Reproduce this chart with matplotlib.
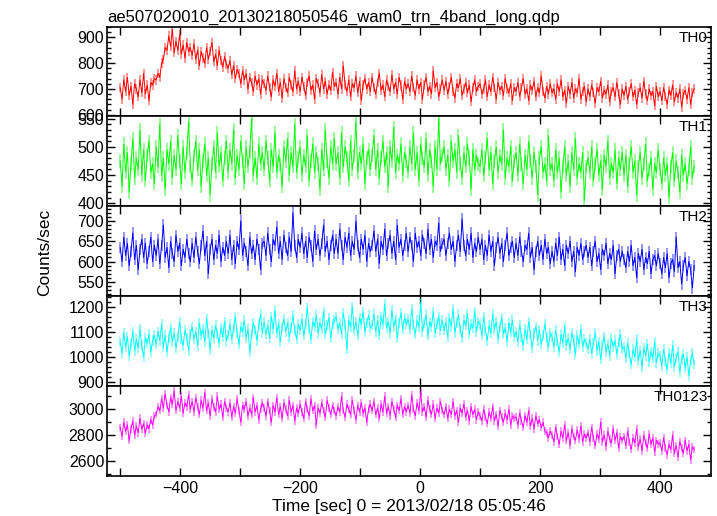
import numpy as np
import matplotlib
matplotlib.use("Agg")
from matplotlib import pyplot as plt
from matplotlib.ticker import MultipleLocator

plt.rcParams['font.family'] = ['Liberation Sans', 'DejaVu Sans']
plt.rcParams['font.size'] = 11

# time bins [sec], 3 s per bin, 0 = 2013/02/18 05:05:46
t = np.arange(-500, 460, 3)

# count rates (16 rows of 20 bins = 60 s per row)
th0 = [
    705, 660, 735, 690, 745, 675, 710, 640, 720, 700, 670, 735, 685, 760, 680, 715, 655, 725, 715, 740,
    735, 760, 745, 800, 815, 860, 850, 905, 865, 930, 840, 885, 850, 910, 835, 870, 820, 880, 845, 860,
    830, 875, 815, 850, 790, 845, 820, 800, 860, 815, 845, 880, 805, 835, 790, 850, 810, 785, 825, 795,
    780, 810, 755, 790, 740, 775, 760, 720, 770, 735, 760, 700, 745, 725, 690, 750, 715, 740, 680, 735,
    720, 695, 750, 705, 670, 735, 710, 760, 690, 725, 665, 740, 705, 685, 745, 715, 690, 770, 700, 730,
    690, 745, 710, 675, 725, 750, 695, 715, 660, 740, 720, 685, 755, 700, 730, 680, 715, 695, 765, 710,
    725, 680, 745, 700, 790, 715, 690, 735, 670, 720, 705, 750, 685, 730, 655, 715, 740, 700, 725, 690,
    745, 705, 680, 725, 760, 695, 715, 670, 735, 710, 690, 755, 700, 725, 680, 745, 715, 660, 730, 700,
    720, 690, 750, 705, 675, 735, 700, 725, 660, 715, 745, 690, 710, 680, 770, 705, 725, 670, 700, 735,
    695, 730, 680, 710, 745, 690, 665, 720, 705, 740, 675, 700, 725, 685, 715, 650, 705, 735, 690, 710,
    720, 680, 700, 735, 670, 715, 690, 745, 705, 660, 725, 695, 710, 675, 740, 700, 685, 720, 655, 705,
    690, 725, 670, 705, 740, 680, 700, 655, 715, 695, 730, 670, 705, 685, 750, 690, 665, 710, 680, 720,
    685, 700, 660, 720, 690, 735, 670, 695, 645, 710, 680, 725, 665, 700, 685, 740, 660, 690, 710, 650,
    700, 670, 715, 685, 645, 705, 690, 730, 665, 695, 680, 715, 650, 690, 705, 670, 725, 680, 640, 700,
    675, 710, 660, 690, 720, 670, 695, 640, 685, 705, 665, 730, 680, 655, 700, 675, 690, 635, 710, 670,
    690, 655, 705, 670, 640, 695, 675, 715, 650, 685, 665, 700, 630, 680, 695, 660, 705, 640, 685, 700,
]
th1 = [
    475, 430, 505, 455, 490, 420, 470, 515, 445, 480, 460, 530, 450, 495, 440, 485, 510, 455, 470, 435,
    500, 465, 540, 450, 480, 425, 495, 470, 510, 445, 485, 460, 520, 475, 435, 500, 455, 490, 545, 465,
    440, 485, 510, 460, 495, 430, 475, 505, 450, 480, 415, 470, 500, 455, 525, 465, 490, 440, 480, 510,
    455, 495, 470, 530, 445, 485, 460, 510, 475, 435, 500, 465, 490, 550, 450, 480, 445, 505, 470, 490,
    460, 510, 480, 440, 495, 465, 525, 455, 485, 470, 430, 500, 475, 515, 450, 490, 465, 540, 455, 480,
    500, 450, 485, 465, 520, 440, 475, 505, 455, 490, 470, 425, 495, 460, 530, 475, 445, 500, 470, 515,
    470, 490, 445, 525, 465, 500, 480, 440, 510, 460, 485, 545, 455, 490, 470, 505, 435, 480, 495, 460,
    485, 520, 460, 495, 445, 480, 510, 465, 490, 430, 500, 475, 535, 455, 485, 470, 505, 450, 490, 475,
    455, 500, 470, 525, 460, 490, 440, 505, 480, 465, 515, 450, 495, 475, 430, 500, 460, 550, 470, 485,
    500, 460, 485, 440, 510, 475, 495, 455, 520, 470, 445, 490, 465, 505, 480, 425, 495, 460, 485, 470,
    465, 495, 450, 480, 515, 460, 490, 435, 475, 500, 455, 485, 470, 530, 445, 480, 465, 500, 440, 475,
    490, 450, 505, 470, 435, 485, 460, 510, 475, 445, 490, 465, 415, 480, 500, 455, 470, 440, 520, 460,
    470, 440, 495, 455, 480, 420, 465, 500, 450, 475, 430, 490, 460, 515, 445, 470, 455, 490, 405, 465,
    480, 455, 500, 440, 470, 495, 450, 475, 425, 485, 465, 510, 445, 470, 455, 495, 435, 480, 460, 490,
    450, 485, 430, 470, 500, 455, 475, 415, 465, 490, 445, 470, 505, 440, 460, 480, 425, 470, 455, 495,
    460, 435, 480, 450, 470, 410, 465, 490, 440, 475, 455, 420, 485, 450, 470, 435, 460, 500, 445, 465,
]
th2 = [
    635, 600, 660, 615, 645, 590, 625, 670, 605, 640, 580, 630, 655, 610, 645, 595, 625, 660, 600, 640,
    615, 655, 595, 640, 690, 610, 635, 585, 650, 620, 600, 665, 625, 645, 590, 630, 610, 655, 620, 600,
    645, 610, 660, 625, 595, 640, 675, 615, 650, 570, 630, 655, 605, 640, 620, 665, 600, 635, 615, 650,
    620, 665, 605, 640, 595, 650, 630, 700, 615, 645, 625, 590, 660, 620, 640, 605, 655, 630, 580, 645,
    650, 615, 670, 630, 600, 655, 640, 685, 620, 650, 605, 665, 635, 615, 660, 625, 720, 640, 610, 655,
    635, 670, 620, 650, 610, 660, 640, 600, 675, 630, 655, 615, 645, 690, 625, 650, 605, 640, 665, 620,
    655, 620, 680, 640, 605, 660, 635, 670, 615, 650, 630, 700, 640, 610, 655, 630, 665, 600, 645, 625,
    640, 675, 625, 655, 595, 650, 630, 680, 615, 645, 665, 620, 650, 605, 690, 635, 655, 615, 640, 670,
    625, 660, 640, 600, 670, 635, 650, 615, 665, 645, 620, 680, 630, 655, 610, 650, 640, 695, 625, 645,
    655, 615, 645, 670, 630, 650, 600, 640, 665, 625, 705, 640, 615, 655, 630, 670, 610, 645, 625, 660,
    630, 655, 605, 640, 615, 665, 625, 650, 590, 635, 660, 620, 645, 600, 640, 670, 615, 635, 650, 610,
    645, 615, 660, 625, 600, 640, 630, 670, 610, 635, 580, 625, 650, 615, 640, 605, 655, 620, 635, 595,
    625, 600, 645, 615, 660, 605, 630, 590, 640, 620, 650, 600, 625, 575, 635, 615, 645, 605, 625, 640,
    610, 635, 590, 625, 650, 600, 620, 580, 630, 615, 645, 595, 620, 605, 640, 570, 615, 630, 600, 625,
    605, 585, 625, 600, 640, 590, 610, 560, 620, 600, 630, 580, 610, 595, 625, 570, 605, 615, 590, 620,
    595, 570, 610, 585, 620, 560, 595, 605, 575, 660, 585, 600, 545, 590, 610, 565, 600, 580, 535, 590,
]
th3 = [
    1060, 1015, 1095, 1040, 1080, 1005, 1050, 1100, 1025, 1070, 1035, 1110, 1045, 1000, 1075, 1055, 1090, 1020, 1065, 1085,
    1050, 1100, 1065, 1130, 1040, 1085, 1020, 1075, 1115, 1060, 1095, 1035, 1080, 1140, 1070, 1045, 1105, 1075, 1025, 1090,
    1120, 1070, 1100, 1045, 1135, 1085, 1110, 1060, 1150, 1095, 1030, 1105, 1075, 1125, 1090, 1055, 1115, 1080, 1140, 1065,
    1085, 1130, 1070, 1115, 1160, 1095, 1050, 1120, 1100, 1145, 1075, 1110, 1020, 1090, 1135, 1105, 1065, 1125, 1170, 1095,
    1140, 1090, 1125, 1075, 1160, 1110, 1185, 1095, 1130, 1060, 1120, 1150, 1100, 1135, 1080, 1115, 1165, 1105, 1070, 1130,
    1105, 1150, 1085, 1130, 1195, 1115, 1070, 1140, 1120, 1165, 1095, 1135, 1110, 1180, 1090, 1125, 1155, 1075, 1130, 1145,
    1160, 1110, 1135, 1090, 1175, 1125, 1030, 1145, 1120, 1200, 1105, 1140, 1085, 1155, 1130, 1180, 1100, 1135, 1165, 1115,
    1125, 1170, 1100, 1145, 1085, 1160, 1130, 1210, 1115, 1140, 1095, 1185, 1120, 1150, 1075, 1135, 1175, 1110, 1155, 1130,
    1150, 1110, 1190, 1125, 1090, 1145, 1120, 1215, 1100, 1135, 1165, 1085, 1140, 1120, 1180, 1095, 1130, 1160, 1105, 1145,
    1105, 1140, 1080, 1155, 1120, 1190, 1095, 1135, 1165, 1110, 1075, 1145, 1125, 1170, 1090, 1130, 1115, 1180, 1100, 1140,
    1130, 1085, 1160, 1105, 1065, 1125, 1095, 1170, 1110, 1140, 1070, 1120, 1155, 1090, 1115, 1060, 1135, 1100, 1145, 1080,
    1100, 1060, 1125, 1080, 1045, 1110, 1070, 1140, 1090, 1035, 1095, 1120, 1065, 1105, 1050, 1085, 1130, 1075, 1040, 1095,
    1080, 1040, 1105, 1060, 1020, 1090, 1055, 1120, 1045, 1075, 1030, 1095, 1065, 1010, 1085, 1050, 1110, 1040, 1070, 1055,
    1030, 1070, 1015, 1055, 1095, 1025, 1060, 990, 1045, 1080, 1020, 1050, 1005, 1075, 1040, 1065, 1010, 1055, 1090, 1030,
    1040, 995, 1055, 1010, 970, 1030, 1000, 1070, 985, 1025, 960, 1035, 1005, 1050, 980, 1020, 995, 1060, 975, 1015,
    1005, 965, 1030, 985, 950, 1015, 975, 1045, 960, 995, 1020, 940, 990, 1010, 955, 1000, 925, 985, 1015, 970,
]
th0123 = [
    2860, 2790, 2900, 2830, 2880, 2760, 2850, 2910, 2800, 2870, 2820, 2930, 2845, 2890, 2815, 2880, 2850, 2920, 2880, 2950,
    2960, 3020, 2990, 3080, 3010, 3120, 3030, 2980, 3090, 3040, 3140, 2990, 3060, 3010, 3100, 2970, 3050, 3020, 3110, 3000,
    3060, 2980, 3090, 3020, 2960, 3070, 3010, 3130, 2990, 3050, 2950, 3080, 3020, 2980, 3100, 3000, 3040, 2940, 3060, 3010,
    2980, 3050, 2940, 3020, 2970, 3080, 2990, 2900, 3030, 3000, 3060, 2950, 3010, 2960, 3090, 2980, 3030, 2920, 3000, 3050,
    3010, 2950, 3060, 2990, 2900, 3030, 2980, 3090, 2960, 3020, 2930, 3050, 3000, 2950, 3070, 2980, 3030, 2910, 3010, 2970,
    3040, 2980, 2930, 3060, 3000, 2950, 3080, 2990, 3030, 2880, 3010, 2970, 3050, 2990, 2940, 3070, 3010, 2960, 3030, 2990,
    2950, 3020, 2980, 3100, 2990, 2940, 3040, 3000, 2960, 3070, 2990, 2920, 3030, 2980, 3050, 2970, 3010, 2900, 3000, 3040,
    2990, 3060, 2960, 3010, 2930, 3040, 2980, 3100, 2970, 3020, 2950, 3060, 3000, 2940, 3030, 2990, 3080, 2960, 3020, 2980,
    3030, 2970, 3110, 3000, 2950, 3050, 2990, 3130, 2980, 3020, 2940, 3070, 3000, 2960, 3040, 2930, 3010, 2970, 3060, 2990,
    2960, 3020, 2930, 3000, 2960, 3060, 2950, 2990, 2900, 3010, 2970, 3040, 2940, 2990, 2910, 3020, 2960, 3000, 2920, 2980,
    2950, 2910, 3000, 2940, 2890, 2980, 2930, 3020, 2910, 2960, 2870, 2990, 2940, 2900, 2970, 2920, 3000, 2880, 2950, 2930,
    2940, 2880, 2970, 2910, 2860, 2950, 2900, 2990, 2870, 2930, 2850, 2950, 2890, 2920, 2860, 2900, 2830, 2820, 2780, 2830,
    2800, 2750, 2860, 2790, 2730, 2830, 2780, 2880, 2760, 2820, 2720, 2850, 2790, 2760, 2840, 2770, 2870, 2750, 2810, 2780,
    2820, 2750, 2860, 2780, 2720, 2810, 2770, 2900, 2750, 2800, 2710, 2830, 2770, 2740, 2850, 2760, 2820, 2700, 2790, 2760,
    2790, 2720, 2830, 2750, 2690, 2780, 2740, 2850, 2710, 2770, 2680, 2800, 2740, 2700, 2810, 2730, 2780, 2670, 2760, 2730,
    2740, 2680, 2780, 2700, 2650, 2730, 2690, 2800, 2660, 2720, 2630, 2750, 2700, 2660, 2760, 2680, 2730, 2610, 2710, 2690,
]

bands = ["TH0", "TH1", "TH2", "TH3", "TH0123"]
rates = [th0, th1, th2, th3, th0123]
errors = [18, 12, 14, 20, 30]  # typical 1-sigma error per bin
colors = ["#ff0000", "#00ff00", "#0000ff", "#00ffff", "#ff00ff"]
ylims = [(595, 940), (395, 555), (515, 737), (884, 1242), (2485, 3180)]
ymajor = [100, 50, 50, 100, 200]
yminor = [20, 10, 10, 20, 100]

fig = plt.figure(figsize=(7.17, 5.16), dpi=100)

left, right = 107 / 717, 711 / 717
top_px = [27, 116, 206, 296, 386, 476]

axes = []
for i in range(5):
    y0 = 1 - top_px[i + 1] / 516
    h = (top_px[i + 1] - top_px[i]) / 516
    ax = fig.add_axes([left, y0, right - left, h])
    y = np.array(rates[i])
    # light error bars then the curve itself
    ax.vlines(t, y - errors[i], y + errors[i], color=colors[i], alpha=0.45, lw=1.3)
    ax.plot(t, y, color=colors[i], lw=0.7)
    ax.set_xlim(-522, 485)
    ax.set_ylim(*ylims[i])
    ax.xaxis.set_major_locator(MultipleLocator(200))
    ax.xaxis.set_minor_locator(MultipleLocator(100))
    ax.yaxis.set_major_locator(MultipleLocator(ymajor[i]))
    ax.yaxis.set_minor_locator(MultipleLocator(yminor[i]))
    ax.tick_params(which="both", direction="in", top=True, right=True, width=1.0, labelsize=11.5)
    ax.tick_params(which="major", length=6)
    ax.tick_params(which="minor", length=3)
    ax.tick_params(axis="x", which="minor", length=6)
    ax.tick_params(axis="y", pad=2)
    for s in ax.spines.values():
        s.set_linewidth(1.2)
    if i < 4:
        ax.tick_params(labelbottom=False)
    ax.text(0.995, 0.96, bands[i], transform=ax.transAxes, ha="right", va="top", fontsize=11)
    axes.append(ax)

axes[0].set_title("ae507020010_20130218050546_wam0_trn_4band_long.qdp", loc="left", fontsize=12, pad=4)
axes[-1].set_xlabel("Time [sec] 0 = 2013/02/18 05:05:46", fontsize=12.5, labelpad=2)
fig.text(45 / 717, 1 - 252 / 516, "Counts/sec", rotation=90, ha="center", va="center", fontsize=12.5)

fig.savefig("out.png", dpi=100)
